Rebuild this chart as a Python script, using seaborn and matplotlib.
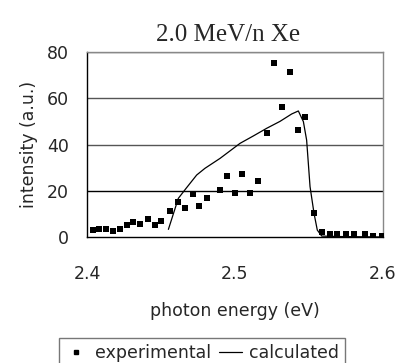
import matplotlib
matplotlib.use("Agg")
import matplotlib.pyplot as plt
import seaborn as sns
import pandas as pd
from matplotlib.lines import Line2D

exp_energy = [2.4039, 2.4083, 2.4128, 2.4176, 2.4223, 2.4268, 2.4313, 2.4360, 2.4412, 2.4457,
              2.4502, 2.4561, 2.4615, 2.4662, 2.4714, 2.4759, 2.4811, 2.4899, 2.4946, 2.5000,
              2.5049, 2.5101, 2.5153, 2.5214, 2.5266, 2.5318, 2.5369, 2.5424, 2.5475, 2.5536,
              2.5588, 2.5640, 2.5692, 2.5750, 2.5804, 2.5880, 2.5935, 2.5995]
exp_intensity = [3.0, 3.5, 3.5, 2.6, 3.5, 5.2, 6.5, 5.6, 7.6, 5.2,
                 6.9, 11.4, 15.3, 12.7, 18.6, 13.5, 17.0, 20.3, 26.2, 19.0,
                 27.4, 19.0, 24.1, 45.0, 75.2, 56.1, 71.5, 46.3, 51.8, 10.5,
                 2.0, 1.4, 1.4, 1.2, 1.4, 1.2, 0.6, 0.6]

calc_energy = [2.4550, 2.4617, 2.4669, 2.4741, 2.4797, 2.4899, 2.5034, 2.5124, 2.5214, 2.5304,
               2.5383, 2.5428, 2.5462, 2.5484, 2.5507, 2.5534, 2.5556, 2.5586, 2.5700, 2.6000]
calc_intensity = [3.3, 16.7, 21.0, 26.8, 29.7, 34.0, 40.5, 43.7, 47.0, 50.0,
                  53.2, 54.5, 49.9, 41.9, 21.8, 10.2, 3.0, 0.4, 0.2, 0.0]

x_ticks = [2.4, 2.5, 2.6]
y_ticks = [0, 20, 40, 60, 80]

sns.set_theme(style="white")
plt.rcParams['font.family'] = ['DejaVu Sans']

fig = plt.figure(figsize=(4.01, 3.63), dpi=100)
ax = fig.add_axes([87/401, 1-237/363, (383-87)/401, (237-52)/363])

exp_df = pd.DataFrame({"energy": exp_energy, "intensity": exp_intensity})
calc_df = pd.DataFrame({"energy": calc_energy, "intensity": calc_intensity})

for yv in y_ticks[1:]:
    ax.axhline(yv, color="black" if yv == 20 else "#555555", lw=1.0, zorder=0)

sns.lineplot(data=calc_df, x="energy", y="intensity", ax=ax, color="black", lw=0.9,
             sort=False, estimator=None, legend=False)
sns.scatterplot(data=exp_df, x="energy", y="intensity", ax=ax, color="black", marker="s",
                s=13, linewidth=0, legend=False, zorder=3)

ax.set_xlim(2.4, 2.6)
ax.set_ylim(0, 80)
ax.set_xticks(x_ticks)
ax.set_xticklabels([f"{v:.1f}" for v in x_ticks])
ax.set_yticks(y_ticks)
ax.set_yticklabels([str(v) for v in y_ticks])
ax.tick_params(axis="x", direction="in", length=8, width=1, pad=20, labelsize=12.5, color="black")
ax.tick_params(axis="y", direction="out", length=2, width=1, pad=11, labelsize=12.5, color="black")
ax.set_xlabel("photon energy (eV)", fontsize=12.5, labelpad=14)
ax.set_ylabel("intensity (a.u.)", fontsize=12.5, labelpad=6)
ax.set_title("2.0 MeV/n Xe", fontsize=18, family="Liberation Serif", pad=8, x=0.476)

for side in ["top", "right"]:
    ax.spines[side].set_color("#888888")
    ax.spines[side].set_linewidth(1.0)
for side in ["left", "bottom"]:
    ax.spines[side].set_color("black")
    ax.spines[side].set_linewidth(1.0)

handles = [Line2D([], [], marker="s", color="black", linestyle="none", markersize=3.3),
           Line2D([], [], color="black", lw=0.9)]
leg = fig.legend(handles, ["experimental", "calculated"], loc="upper center",
                 bbox_to_anchor=(202/401, 1-329/363), ncol=2, frameon=True, fancybox=False,
                 fontsize=12.5, handlelength=1.3, handletextpad=0.4, columnspacing=0.5,
                 borderpad=0.35)
leg.get_frame().set_edgecolor("#555555")
leg.get_frame().set_linewidth(1.0)

fig.savefig("out.png", dpi=100)
